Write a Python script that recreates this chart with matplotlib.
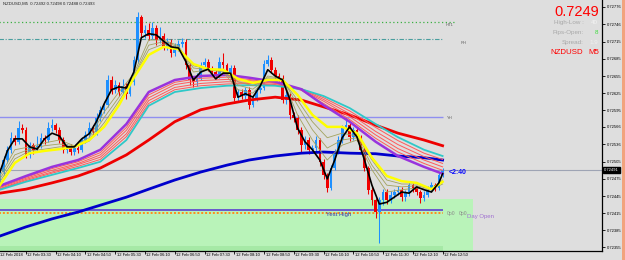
import matplotlib
matplotlib.use("Agg")
import matplotlib.pyplot as plt
from matplotlib.patches import Rectangle
from matplotlib.transforms import blended_transform_factory

plt.rcParams['font.family'] = ['Liberation Sans', 'DejaVu Sans']

# ---------------- data ----------------
bar_index = list(range(1, 121))

open_ = [0.72473, 0.72487, 0.72508, 0.72526, 0.72547, 0.72540, 0.72564, 0.72561, 0.72517, 0.72534,
         0.72526, 0.72533, 0.72547, 0.72543, 0.72564, 0.72569, 0.72561, 0.72543, 0.72526, 0.72531,
         0.72522, 0.72529, 0.72526, 0.72543, 0.72552, 0.72564, 0.72557, 0.72582, 0.72596, 0.72604,
         0.72648, 0.72631, 0.72639, 0.72627, 0.72638, 0.72624, 0.72645, 0.72683, 0.72758, 0.72730,
         0.72736, 0.72725, 0.72739, 0.72718, 0.72725, 0.72706, 0.72715, 0.72695, 0.72704, 0.72711,
         0.72715, 0.72674, 0.72648, 0.72645, 0.72652, 0.72674, 0.72680, 0.72669, 0.72662, 0.72657,
         0.72680, 0.72674, 0.72662, 0.72669, 0.72617, 0.72627, 0.72620, 0.72631, 0.72604, 0.72617,
         0.72631, 0.72634, 0.72676, 0.72683, 0.72666, 0.72655, 0.72652, 0.72613, 0.72622, 0.72587,
         0.72582, 0.72561, 0.72534, 0.72543, 0.72526, 0.72529, 0.72543, 0.72505, 0.72482, 0.72459,
         0.72494, 0.72522, 0.72543, 0.72564, 0.72569, 0.72548, 0.72561, 0.72548, 0.72526, 0.72494,
         0.72456, 0.72438, 0.72417, 0.72438, 0.72452, 0.72438, 0.72447, 0.72452, 0.72456, 0.72443,
         0.72450, 0.72464, 0.72459, 0.72452, 0.72442, 0.72447, 0.72456, 0.72464, 0.72459, 0.72482]

high = [0.72494, 0.72515, 0.72533, 0.72557, 0.72552, 0.72576, 0.72571, 0.72566, 0.72540, 0.72538,
        0.72550, 0.72555, 0.72552, 0.72575, 0.72580, 0.72573, 0.72566, 0.72548, 0.72536, 0.72536,
        0.72534, 0.72533, 0.72548, 0.72559, 0.72575, 0.72570, 0.72590, 0.72603, 0.72612, 0.72657,
        0.72655, 0.72648, 0.72645, 0.72650, 0.72643, 0.72652, 0.72690, 0.72767, 0.72762, 0.72745,
        0.72748, 0.72750, 0.72744, 0.72740, 0.72730, 0.72722, 0.72720, 0.72712, 0.72718, 0.72722,
        0.72720, 0.72678, 0.72655, 0.72660, 0.72680, 0.72686, 0.72684, 0.72673, 0.72668, 0.72688,
        0.72695, 0.72678, 0.72675, 0.72674, 0.72633, 0.72632, 0.72636, 0.72636, 0.72622, 0.72636,
        0.72640, 0.72683, 0.72692, 0.72688, 0.72670, 0.72660, 0.72657, 0.72628, 0.72626, 0.72592,
        0.72586, 0.72565, 0.72550, 0.72548, 0.72535, 0.72550, 0.72547, 0.72510, 0.72486, 0.72500,
        0.72528, 0.72550, 0.72570, 0.72583, 0.72573, 0.72566, 0.72565, 0.72552, 0.72530, 0.72498,
        0.72461, 0.72442, 0.72444, 0.72458, 0.72457, 0.72453, 0.72458, 0.72463, 0.72460, 0.72456,
        0.72470, 0.72468, 0.72462, 0.72456, 0.72453, 0.72462, 0.72470, 0.72468, 0.72487, 0.72494]

low = [0.72466, 0.72482, 0.72503, 0.72520, 0.72535, 0.72536, 0.72555, 0.72512, 0.72512, 0.72519,
       0.72522, 0.72529, 0.72536, 0.72540, 0.72559, 0.72555, 0.72538, 0.72520, 0.72520, 0.72517,
       0.72517, 0.72521, 0.72522, 0.72538, 0.72548, 0.72550, 0.72552, 0.72576, 0.72590, 0.72600,
       0.72624, 0.72626, 0.72620, 0.72622, 0.72615, 0.72620, 0.72640, 0.72678, 0.72724, 0.72722,
       0.72718, 0.72720, 0.72710, 0.72712, 0.72700, 0.72700, 0.72688, 0.72690, 0.72699, 0.72706,
       0.72668, 0.72640, 0.72636, 0.72638, 0.72648, 0.72668, 0.72664, 0.72655, 0.72650, 0.72652,
       0.72668, 0.72656, 0.72657, 0.72612, 0.72610, 0.72614, 0.72615, 0.72598, 0.72600, 0.72612,
       0.72626, 0.72630, 0.72672, 0.72660, 0.72650, 0.72646, 0.72607, 0.72606, 0.72580, 0.72574,
       0.72554, 0.72522, 0.72528, 0.72518, 0.72520, 0.72524, 0.72498, 0.72475, 0.72452, 0.72455,
       0.72490, 0.72518, 0.72538, 0.72558, 0.72542, 0.72543, 0.72542, 0.72520, 0.72488, 0.72449,
       0.72430, 0.72407, 0.72363, 0.72430, 0.72431, 0.72432, 0.72441, 0.72446, 0.72436, 0.72437,
       0.72445, 0.72452, 0.72446, 0.72432, 0.72437, 0.72443, 0.72452, 0.72454, 0.72455, 0.72478]

close = [0.72487, 0.72508, 0.72526, 0.72547, 0.72540, 0.72564, 0.72561, 0.72517, 0.72534, 0.72526,
         0.72533, 0.72547, 0.72543, 0.72564, 0.72569, 0.72561, 0.72543, 0.72526, 0.72531, 0.72522,
         0.72529, 0.72526, 0.72543, 0.72552, 0.72564, 0.72557, 0.72582, 0.72596, 0.72604, 0.72648,
         0.72631, 0.72639, 0.72627, 0.72638, 0.72624, 0.72645, 0.72683, 0.72758, 0.72730, 0.72736,
         0.72725, 0.72739, 0.72718, 0.72725, 0.72706, 0.72715, 0.72695, 0.72704, 0.72711, 0.72715,
         0.72674, 0.72648, 0.72645, 0.72652, 0.72674, 0.72680, 0.72669, 0.72662, 0.72657, 0.72680,
         0.72674, 0.72662, 0.72669, 0.72617, 0.72627, 0.72620, 0.72631, 0.72604, 0.72617, 0.72631,
         0.72634, 0.72676, 0.72683, 0.72666, 0.72655, 0.72652, 0.72613, 0.72622, 0.72587, 0.72582,
         0.72561, 0.72534, 0.72543, 0.72526, 0.72529, 0.72543, 0.72505, 0.72482, 0.72459, 0.72494,
         0.72522, 0.72543, 0.72564, 0.72569, 0.72548, 0.72561, 0.72548, 0.72526, 0.72494, 0.72456,
         0.72438, 0.72417, 0.72438, 0.72452, 0.72438, 0.72447, 0.72452, 0.72456, 0.72443, 0.72450,
         0.72464, 0.72459, 0.72452, 0.72442, 0.72447, 0.72456, 0.72464, 0.72459, 0.72482, 0.72491]

# fast MA (black)
black_x = [1, 3, 5, 7, 9, 11, 13, 15, 17, 19, 21, 23, 25, 27, 29, 31, 33, 35, 37, 39,
           41, 43, 45, 47, 49, 51, 53, 55, 57, 59, 61, 63, 65, 67, 69, 71, 73, 75, 77, 79,
           81, 83, 85, 87, 89, 91, 93, 95, 97, 99, 101, 103, 105, 107, 109, 111, 113, 115, 117, 119, 120]
black_ma = [0.72487, 0.72524, 0.72545, 0.72545, 0.72531, 0.72527, 0.72545, 0.72555, 0.72550, 0.72531,
            0.72531, 0.72545, 0.72554, 0.72576, 0.72606, 0.72631, 0.72636, 0.72634, 0.72662, 0.72722,
            0.72729, 0.72727, 0.72716, 0.72706, 0.72704, 0.72680, 0.72648, 0.72662, 0.72667, 0.72650,
            0.72660, 0.72660, 0.72618, 0.72624, 0.72618, 0.72638, 0.72666, 0.72655, 0.72648, 0.72613,
            0.72564, 0.72540, 0.72526, 0.72508, 0.72475, 0.72508, 0.72547, 0.72566, 0.72548, 0.72508,
            0.72464, 0.72431, 0.72434, 0.72443, 0.72452, 0.72450, 0.72461, 0.72456, 0.72452, 0.72468,
            0.72484]

# short ribbon (olive) and yellow MA
short_x = [1, 5, 9, 13, 17, 21, 25, 29, 33, 37, 41, 45, 49, 53, 57, 61, 65, 69, 73, 77,
           81, 85, 89, 93, 97, 101, 105, 109, 113, 117, 120]
yellow_ma = [0.72464, 0.72503, 0.72520, 0.72524, 0.72527, 0.72531, 0.72543, 0.72566, 0.72604, 0.72652,
             0.72692, 0.72706, 0.72702, 0.72676, 0.72667, 0.72666, 0.72650, 0.72643, 0.72648, 0.72648,
             0.72622, 0.72587, 0.72566, 0.72566, 0.72555, 0.72512, 0.72480, 0.72471, 0.72468, 0.72457,
             0.72470]
olive_1 = [0.72480, 0.72526, 0.72531, 0.72538, 0.72543, 0.72533, 0.72547, 0.72592, 0.72627, 0.72659,
           0.72718, 0.72718, 0.72708, 0.72662, 0.72666, 0.72662, 0.72631, 0.72625, 0.72655, 0.72650,
           0.72587, 0.72543, 0.72508, 0.72534, 0.72543, 0.72491, 0.72452, 0.72456, 0.72459, 0.72456,
           0.72473]
olive_2 = [0.72475, 0.72517, 0.72527, 0.72533, 0.72536, 0.72533, 0.72543, 0.72582, 0.72618, 0.72655,
           0.72709, 0.72715, 0.72706, 0.72669, 0.72666, 0.72664, 0.72639, 0.72632, 0.72652, 0.72650,
           0.72604, 0.72561, 0.72529, 0.72543, 0.72547, 0.72499, 0.72464, 0.72461, 0.72463, 0.72457,
           0.72470]
olive_3 = [0.72470, 0.72510, 0.72524, 0.72527, 0.72531, 0.72531, 0.72541, 0.72573, 0.72611, 0.72653,
           0.72701, 0.72711, 0.72704, 0.72673, 0.72667, 0.72666, 0.72645, 0.72638, 0.72650, 0.72648,
           0.72613, 0.72575, 0.72547, 0.72555, 0.72550, 0.72508, 0.72473, 0.72466, 0.72466, 0.72457,
           0.72466]

# long ribbon, slow MAs
long_x = [1, 8, 15, 22, 28, 35, 41, 48, 55, 62, 68, 75, 82, 88, 95, 102, 108, 115, 120]
purple_ma = [0.72463, 0.72480, 0.72496, 0.72508, 0.72526, 0.72571, 0.72627, 0.72648, 0.72655, 0.72657,
             0.72652, 0.72645, 0.72632, 0.72604, 0.72575, 0.72540, 0.72515, 0.72496, 0.72484]
red_rib_1 = [0.72461, 0.72478, 0.72493, 0.72505, 0.72521, 0.72565, 0.72622, 0.72644, 0.72651, 0.72653,
             0.72649, 0.72643, 0.72630, 0.72607, 0.72579, 0.72546, 0.72522, 0.72502, 0.72490]
red_rib_2 = [0.72460, 0.72476, 0.72490, 0.72502, 0.72517, 0.72560, 0.72617, 0.72640, 0.72647, 0.72649,
             0.72647, 0.72642, 0.72631, 0.72611, 0.72584, 0.72552, 0.72528, 0.72508, 0.72496]
red_rib_3 = [0.72458, 0.72474, 0.72487, 0.72500, 0.72513, 0.72554, 0.72612, 0.72635, 0.72642, 0.72645,
             0.72644, 0.72640, 0.72632, 0.72614, 0.72589, 0.72558, 0.72535, 0.72514, 0.72502]
red_rib_4 = [0.72457, 0.72472, 0.72485, 0.72497, 0.72509, 0.72549, 0.72607, 0.72631, 0.72638, 0.72641,
             0.72642, 0.72639, 0.72633, 0.72617, 0.72594, 0.72565, 0.72542, 0.72520, 0.72509]
cyan_ma = [0.72456, 0.72470, 0.72482, 0.72494, 0.72505, 0.72543, 0.72603, 0.72627, 0.72634, 0.72638,
           0.72639, 0.72638, 0.72632, 0.72620, 0.72599, 0.72571, 0.72548, 0.72526, 0.72515]
red_slow = [0.72450, 0.72457, 0.72468, 0.72480, 0.72494, 0.72517, 0.72543, 0.72575, 0.72596, 0.72606,
            0.72613, 0.72618, 0.72613, 0.72601, 0.72587, 0.72569, 0.72555, 0.72543, 0.72533]
blue_slow = [0.72375, 0.72391, 0.72405, 0.72417, 0.72429, 0.72443, 0.72457, 0.72473, 0.72487, 0.72499,
             0.72508, 0.72515, 0.72520, 0.72522, 0.72520, 0.72519, 0.72515, 0.72512, 0.72508]

# levels
ht1_level = 0.72749
rh_level = 0.72720
yh_level = 0.72583
bid_level = 0.72491
yest_high = 0.72421
day_open = 0.72416
zone_top = 0.72440

ytick_vals = [0.72776, 0.72746, 0.72715, 0.72685, 0.72655, 0.72625, 0.72595, 0.72566,
              0.72536, 0.72505, 0.72475, 0.72445, 0.72415, 0.72385, 0.72355]
ytick_labels = ['0.72776', '0.72746', '0.72715', '0.72685', '0.72655', '0.72625', '0.72595', '0.72566',
                '0.72536', '0.72505', '0.72475', '0.72445', '0.72415', '0.72385', '0.72355']
xtick_idx = [0, 8, 16, 24, 32, 40, 48, 56, 64, 72, 80, 88, 96, 104, 112, 120]
xtick_labels = ['12 Feb 2018', '12 Feb 03:30', '12 Feb 04:10', '12 Feb 04:50', '12 Feb 05:30',
                '12 Feb 06:10', '12 Feb 06:50', '12 Feb 07:30', '12 Feb 08:10', '12 Feb 08:50',
                '12 Feb 09:30', '12 Feb 10:10', '12 Feb 10:50', '12 Feb 11:30', '12 Feb 12:10',
                '12 Feb 12:50']

# ---------------- drawing ----------------
W, H = 625, 260
BG = '#dedede'
fig = plt.figure(figsize=(W / 100, H / 100), dpi=100, facecolor=BG)
ax = fig.add_axes([0, 9 / H, 602 / W, 251 / H], facecolor=BG)
ax.set_xlim(1.02, 162.85)
ax.set_ylim(0.723488, 0.72788)


def fx(x):
    return x / W


def fy(y):
    return 1 - y / H


# green zone
ax.add_patch(Rectangle((0, 0.7234), 128.2, zone_top - 0.7234, facecolor='#b9f3b9', lw=0, zorder=0.5))
ax.add_patch(Rectangle((0, 0.7234), 120.1, 0.72357 - 0.7234, facecolor='#a6e9a6', lw=0, zorder=0.6))

# horizontal levels
ax.hlines(ht1_level, 0, 123.3, colors='#3cb043', linestyles=(0, (1, 2)), lw=0.9, zorder=1)
ax.hlines(rh_level, 0, 119.8, colors='#4a9e9e', linestyles=(0, (4, 1.5, 1, 1.5)), lw=0.8, zorder=1)
ax.hlines(yh_level, 0, 120.1, colors='#8f8ff0', lw=1.0, zorder=1)
ax.axhline(bid_level, color='#9ea4b4', lw=0.8, zorder=1)
ax.hlines(yest_high, 0, 120.1, colors='#5b3fd0', lw=1.2, zorder=1.2)
ax.hlines(day_open, 0, 120.1, colors='#ff8c1a', linestyles=(0, (1, 1)), lw=1.4, zorder=1.1)

# candles
bull, bear = '#1e90ff', '#f00000'
cols = [bull if c >= o else bear for o, c in zip(open_, close)]
bottoms = [min(o, c) for o, c in zip(open_, close)]
heights = [max(abs(c - o), 0.000012) for o, c in zip(open_, close)]
ax.vlines(bar_index, low, high, colors=cols, lw=0.75, zorder=2)
ax.bar(bar_index, heights, width=0.72, bottom=bottoms, color=cols, linewidth=0, zorder=2.1)

# moving averages
ax.plot(long_x, blue_slow, color='#0000cc', lw=2.0, zorder=3)
ax.plot(long_x, red_slow, color='#ee0000', lw=2.0, zorder=3.1)
for r in (red_rib_1, red_rib_2, red_rib_3, red_rib_4):
    ax.plot(long_x, r, color='#ff5a5a', lw=0.7, zorder=3.2)
ax.plot(long_x, cyan_ma, color='#2ec8c8', lw=1.3, zorder=3.3)
ax.plot(long_x, purple_ma, color='#9933dd', lw=1.8, zorder=3.4)
for o in (olive_1, olive_2, olive_3):
    ax.plot(short_x, o, color='#a3a35e', lw=0.6, zorder=3.5)
ax.plot(short_x, yellow_ma, color='#ffff00', lw=1.8, zorder=3.6)
ax.plot(black_x, black_ma, color='black', lw=1.2, zorder=3.8)

# axes styling
for s in ('top', 'left'):
    ax.spines[s].set_visible(False)
for s in ('right', 'bottom'):
    ax.spines[s].set_color('black')
    ax.spines[s].set_linewidth(0.9)
ax.yaxis.tick_right()
ax.set_yticks(ytick_vals)
ax.set_yticklabels(ytick_labels)
ax.tick_params(axis='y', length=2, width=0.6, pad=1.2, labelsize=3, colors='black')
ax.set_xticks(xtick_idx[1:])
ax.tick_params(axis='x', length=2, width=0.6, labelbottom=False)
tr = blended_transform_factory(ax.transData, ax.transAxes)
for i, lab in zip(xtick_idx, xtick_labels):
    xpos = max(i + 0.4, 1.1)
    ax.text(xpos, -0.017, lab, transform=tr, fontsize=3, ha='left', va='center',
            color='black', clip_on=False)

# current price box
ax.text(1.003, bid_level, '0.72491', transform=blended_transform_factory(ax.transAxes, ax.transData),
        fontsize=3, color='white', ha='left', va='center', clip_on=False,
        bbox=dict(boxstyle='square,pad=0.25', facecolor='black', edgecolor='black'))

# annotations
fig.text(fx(3), fy(4), 'NZDUSD,M5  0.72492 0.72498 0.72488 0.72493', fontsize=3.1,
         color='#202020', ha='left', va='center')
fig.text(fx(446), fy(25), 'HT1', fontsize=3, color='#606060', ha='left', va='center')
fig.text(fx(461), fy(42.5), 'RH', fontsize=3, color='#606060', ha='left', va='center')
fig.text(fx(447), fy(118), 'YH', fontsize=3, color='#606060', ha='left', va='center')
fig.text(fx(326), fy(214.5), 'Yest High', fontsize=4.2, color='#3535b0', ha='left', va='center')
fig.text(fx(447), fy(214), '0p0', fontsize=3.6, color='#8a8a8a', ha='left', va='center')
fig.text(fx(459), fy(214), '0p0', fontsize=3.6, color='#8a8a8a', ha='left', va='center')
fig.text(fx(467), fy(216.5), 'Day Open', fontsize=4.3, color='#a070d0', ha='left', va='center')
fig.text(fx(449), fy(172.5), '<2:40', fontsize=5, color='#0a0aff', fontweight='bold',
         ha='left', va='center')

fig.text(fx(599), fy(11.5), '0.7249', fontsize=10.5, color='#ff0000', ha='right', va='center')
fig.text(fx(584), fy(22.5), 'High-Low :', fontsize=4.5, color='#a8a8a8', ha='right', va='center')
fig.text(fx(598), fy(22.5), '40', fontsize=4.5, color='#f4f4f4', ha='right', va='center')
fig.text(fx(584), fy(32.5), 'Pips-Open:', fontsize=4.5, color='#a8a8a8', ha='right', va='center')
fig.text(fx(598), fy(32.5), '8', fontsize=4.5, color='#3ddc3d', ha='right', va='center')
fig.text(fx(584), fy(42.5), 'Spread:', fontsize=4.5, color='#a8a8a8', ha='right', va='center')
fig.text(fx(598), fy(42.5), '1.9', fontsize=4.5, color='#f0f0f0', ha='right', va='center')
fig.text(fx(583), fy(52), 'NZDUSD', fontsize=5.7, color='#ff0000', ha='right', va='center')
fig.text(fx(599), fy(52), 'M5', fontsize=5.7, color='#ff0000', ha='right', va='center')

# right window border strip
fig.patches.append(Rectangle((fx(622), 0), 3 / W, 1, transform=fig.transFigure,
                             facecolor='#f2a37e', edgecolor='none'))

fig.savefig('out.png', dpi=100, facecolor=BG)
